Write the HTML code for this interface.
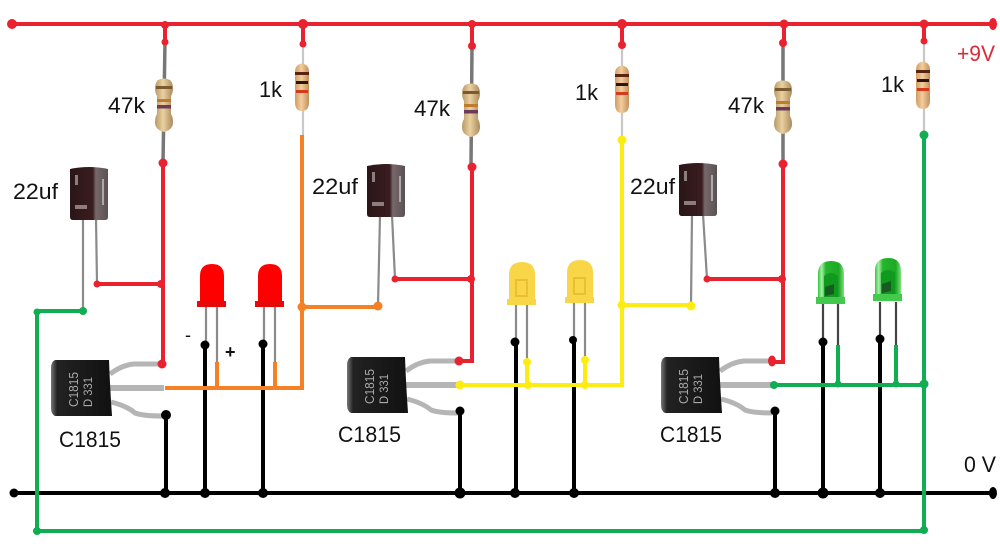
<!DOCTYPE html>
<html><head><meta charset="utf-8"><style>
html,body{margin:0;padding:0;background:#fff}
svg{display:block}
text{font-family:"Liberation Sans",sans-serif;font-size:22px;fill:#111}
.r{stroke:#e8232f;stroke-width:4;fill:none}
.k{stroke:#000;stroke-width:4;fill:none}
.g{stroke:#10ad52;stroke-width:4;fill:none}
.o{stroke:#f58025;stroke-width:4;fill:none}
.y{stroke:#fdec14;stroke-width:4;fill:none}
.l{stroke:#8a8a8a;stroke-width:2.2;fill:none}
.dr{fill:#e8232f}.dk{fill:#000}.dg{fill:#10ad52}.do{fill:#f58025}.dy{fill:#fdec14}
</style></head><body>
<svg width="1000" height="544" viewBox="0 0 1000 544" xmlns="http://www.w3.org/2000/svg">
<defs>
<linearGradient id="rb" x1="0" x2="1" y1="0" y2="0"><stop offset="0" stop-color="#b89a68"/><stop offset=".45" stop-color="#ead0a0"/><stop offset="1" stop-color="#a98a5c"/></linearGradient>
<linearGradient id="rb2" x1="0" x2="1" y1="0" y2="0"><stop offset="0" stop-color="#cf9c62"/><stop offset=".45" stop-color="#f4cd9c"/><stop offset="1" stop-color="#c0905c"/></linearGradient>
<linearGradient id="capGrad" x1="0" x2="1" y1="0" y2="0"><stop offset="0" stop-color="#2a1518"/><stop offset=".6" stop-color="#3a1d20"/><stop offset=".68" stop-color="#77686a"/><stop offset="1" stop-color="#5a5052"/></linearGradient>
<linearGradient id="trGrad" x1="0" x2="1" y1="0" y2="0"><stop offset="0" stop-color="#777"/><stop offset=".1" stop-color="#222"/><stop offset="1" stop-color="#111"/></linearGradient>
<linearGradient id="gl" x1="0" x2="1" y1="0" y2="0"><stop offset="0" stop-color="#2fc63a"/><stop offset=".14" stop-color="#a8eea8"/><stop offset=".3" stop-color="#25b52c"/><stop offset=".8" stop-color="#1fa826"/><stop offset="1" stop-color="#7fe07f"/></linearGradient>
<g id="r47">
<path d="M-6-25q6-3 12 0q3 3 3 8q0 5-2 8v18q2 3 2 8q0 8-9 10q-9-2-9-10q0-5 2-8v-18q-2-3-2-8q0-5 3-8z" fill="url(#rb)"/>
<rect x="-8" y="-19" width="16" height="3" fill="#7a5a30"/>
<rect x="-7" y="-6" width="14" height="3" fill="#c07a30"/>
<rect x="-7" y="0" width="14" height="3.500" fill="#6d3a5a"/>
</g>
<g id="r1">
<path d="M-4-23q4-3 8 0q3 2 3 7v30q0 6-3 8q-4 2-8 0q-3-2-3-8v-30q0-5 3-7z" fill="url(#rb2)"/>
<rect x="-7" y="-16" width="14" height="3" fill="#5a2510"/>
<rect x="-6" y="-7" width="12" height="3" fill="#2a1510"/>
<rect x="-6" y="2" width="12" height="3" fill="#d63a1a"/>
</g>
<g id="capC">
<path d="M0 2q19-4 38 0v48q0 3-3 3h-32q-3 0-3-3z" fill="url(#capGrad)"/>
<rect x="5" y="8" width="3" height="10" fill="#8d7d7d"/><rect x="5" y="38" width="12" height="4" fill="#8d7d7d"/><rect x="32" y="12" width="2" height="26" fill="#aaa"/>
</g>
<g id="trT">
<path d="M59 14q12-9 24-10h28" stroke="#b5b5b5" stroke-width="5" fill="none"/>
<rect x="58" y="25" width="55" height="6" fill="#b5b5b5"/>
<path d="M60 42q16 4 24 11q8 3 27 3" stroke="#b5b5b5" stroke-width="5" fill="none"/>
<path d="M4 0h54q1 28 3 56h-57q-4-2-4-8v-40q0-6 4-8z" fill="url(#trGrad)"/>
<text transform="translate(27 47) rotate(-90)" style="font-size:13px;fill:#aaa" textLength="35" lengthAdjust="spacingAndGlyphs">C1815</text>
<text transform="translate(41 47) rotate(-90)" style="font-size:12px;fill:#aaa" textLength="30" lengthAdjust="spacingAndGlyphs">D 331</text>
</g>
<g id="led-r"><path d="M2 38V12q0-12 12-12t12 12V38z" fill="#fe0000"/><rect x="-1" y="37" width="29" height="6" fill="#e40a0a"/></g>
<g id="led-y"><path d="M2 38V13q0-13 13-13t13 13V38z" fill="#f8d648"/><rect x="0" y="37" width="29" height="6" fill="#f8d648"/><path d="M9 18h11v16h-11z" fill="none" stroke="#eac030" stroke-width="2"/></g>
<g id="led-g"><path d="M2 38V14q0-13 13-13t13 13V38z" fill="url(#gl)"/><path d="M8 16q7-6 14 0v22h-14z" fill="#0f9a1e"/><path d="M9 27l9-3v10l-9 2z" fill="#185a22"/><rect x="0" y="37" width="29" height="7" fill="#43c94b"/></g>
</defs>
<rect width="1000" height="544" fill="#fff"/>

<!-- component leads -->
<path class="l" style="stroke-width:3.500;stroke:#777" d="M165 42L163 163M472 46L471 167M783 43V164"/>
<path class="l" style="stroke:#c8c8c8" d="M303 44V135M622 45V140M924 41V135"/>
<path class="l" d="M83 218V311M96 218L97 284M380 215L378 306M392 215L395 279M692 214L691 305M703 214L707 279"/>
<path class="l" d="M206 305V345M217 305V365M264 305V344M275 305V365M516 303V342M527 303V362M574 301V340M585 301V360"/>
<path class="l" style="stroke:#444" d="M823 304V342M838 304V345M880 302V339M896 302V345"/>

<!-- power rail and stubs -->
<path class="r" d="M12 24H993M165 24V42M303 24V44M472 24V46M622 24V45M784 24V43M924 24V41"/>
<path class="r" d="M163 163V364M97 284H163M472 167V361H459M395 279H472M783 164V362H772M707 279H783"/>
<g class="dr">
<circle cx="12" cy="24" r="5"/><circle cx="165" cy="25" r="4"/><circle cx="303" cy="24" r="5"/><circle cx="472" cy="24" r="4"/><circle cx="622" cy="24" r="5"/><circle cx="784" cy="24" r="4.500"/><circle cx="924" cy="24" r="4.500"/><ellipse cx="993" cy="24" rx="4" ry="6"/>
<circle cx="165" cy="42" r="3.500"/><circle cx="303" cy="44" r="3.500"/><circle cx="472" cy="46" r="4"/><circle cx="622" cy="45" r="4"/><circle cx="783" cy="43" r="4"/><circle cx="924" cy="41" r="3.500"/>
<circle cx="163" cy="163" r="4.500"/><circle cx="472" cy="167" r="4.500"/><circle cx="783" cy="164" r="4.500"/>
<circle cx="97" cy="284" r="3.500"/><circle cx="161" cy="284" r="4"/><circle cx="395" cy="279" r="3.500"/><circle cx="471" cy="279" r="4"/><circle cx="707" cy="279" r="3.500"/><circle cx="782" cy="279" r="4"/>
</g>

<!-- ground -->
<path class="k" d="M14 493H993M166 415V493M205 345V493M263 344V493M460 411V493M516 342V493M574 340V493M775 411V493M823 342V493M880 339V493"/>

<!-- green -->
<path class="g" d="M83 311H37V531H924M924 135V531M774 385H924M838 345V385M896 345V385"/>
<!-- orange -->
<path class="o" d="M302 135V388H165M302 307H378M217 362V388M275 362V388"/>
<!-- yellow -->
<path class="y" d="M622 140V385H460M622 305H691M527 362V385M585 360V385"/>

<!-- resistors -->
<use href="#r47" x="164" y="105"/><use href="#r47" x="471" y="110"/><use href="#r47" x="783" y="107"/>
<use href="#r1" x="302" y="88"/><use href="#r1" x="622" y="90"/><use href="#r1" x="923" y="86"/>
<!-- capacitors -->
<use href="#capC" x="70" y="167"/><use href="#capC" x="367" y="164"/><use href="#capC" x="679" y="163"/>
<!-- LEDs -->
<use href="#led-r" x="198" y="264"/><use href="#led-r" x="256" y="264"/>
<use href="#led-y" x="507" y="262"/><use href="#led-y" x="565" y="260"/>
<use href="#led-g" x="816" y="260"/><use href="#led-g" x="873" y="257"/>
<!-- transistors -->
<use href="#trT" x="51" y="360"/><use href="#trT" x="347" y="357"/><use href="#trT" x="661" y="357"/>

<!-- dots over components -->
<g class="dk">
<circle cx="14" cy="493" r="4.500"/><circle cx="165" cy="493" r="5"/><circle cx="205" cy="493" r="5"/><circle cx="263" cy="493" r="5"/><circle cx="460" cy="493" r="5.500"/><circle cx="515" cy="493" r="5"/><circle cx="574" cy="493" r="5"/><circle cx="775" cy="493" r="5"/><circle cx="823" cy="493" r="5.500"/><circle cx="880" cy="493" r="5"/><ellipse cx="993" cy="493" rx="4" ry="6"/>
<circle cx="205" cy="345" r="4.500"/><circle cx="263" cy="344" r="4.500"/><circle cx="515" cy="342" r="4.500"/><circle cx="573" cy="340" r="4"/><circle cx="823" cy="342" r="4.500"/><circle cx="880" cy="339" r="4.500"/>
<circle cx="166" cy="415" r="5"/><circle cx="460" cy="411" r="4.500"/><circle cx="775" cy="411" r="4.500"/>
</g>
<g class="dr"><circle cx="162" cy="364" r="4.500"/><circle cx="459" cy="361" r="4.500"/><ellipse cx="772" cy="361" rx="4" ry="5.500"/></g>
<g class="dg"><circle cx="924" cy="135" r="4.500"/><circle cx="37" cy="312" r="3.500"/><circle cx="83" cy="311" r="4"/><circle cx="37" cy="531" r="4"/><circle cx="924" cy="530" r="4"/><circle cx="774" cy="385" r="4"/><circle cx="838" cy="384" r="3.500"/><circle cx="896" cy="384" r="3.500"/><circle cx="924" cy="384" r="4.500"/></g>
<g class="do"><circle cx="302" cy="307" r="4.500"/><circle cx="378" cy="306" r="4.500"/></g>
<g class="dy"><circle cx="622" cy="140" r="4.500"/><circle cx="460" cy="385" r="4.500"/><circle cx="527" cy="362" r="4"/><circle cx="585" cy="360" r="4"/><circle cx="528" cy="385" r="4"/><circle cx="585" cy="385" r="4"/><circle cx="622" cy="305" r="4.500"/><circle cx="691" cy="306" r="4.500"/></g>

<!-- labels -->
<text x="108" y="113" textLength="37" lengthAdjust="spacingAndGlyphs">47k</text>
<text x="259" y="97" textLength="23" lengthAdjust="spacingAndGlyphs">1k</text>
<text x="414" y="116" textLength="36" lengthAdjust="spacingAndGlyphs">47k</text>
<text x="575" y="100" textLength="23" lengthAdjust="spacingAndGlyphs">1k</text>
<text x="728" y="113" textLength="36" lengthAdjust="spacingAndGlyphs">47k</text>
<text x="881" y="92" textLength="23" lengthAdjust="spacingAndGlyphs">1k</text>
<text x="13" y="199" textLength="45" lengthAdjust="spacingAndGlyphs">22uf</text>
<text x="312" y="194" textLength="46" lengthAdjust="spacingAndGlyphs">22uf</text>
<text x="630" y="194" textLength="45" lengthAdjust="spacingAndGlyphs">22uf</text>
<text x="59" y="447" textLength="62" lengthAdjust="spacingAndGlyphs">C1815</text>
<text x="338" y="442" textLength="63" lengthAdjust="spacingAndGlyphs">C1815</text>
<text x="660" y="442" textLength="62" lengthAdjust="spacingAndGlyphs">C1815</text>
<text x="957" y="61" textLength="38" lengthAdjust="spacingAndGlyphs" style="fill:#d9283a">+9V</text>
<text x="964" y="472" textLength="32" lengthAdjust="spacingAndGlyphs">0 V</text>
<text x="185" y="341" style="font-size:18px">-</text>
<text x="225" y="358" style="font-size:18px;font-weight:bold">+</text>
</svg>
</body></html>
